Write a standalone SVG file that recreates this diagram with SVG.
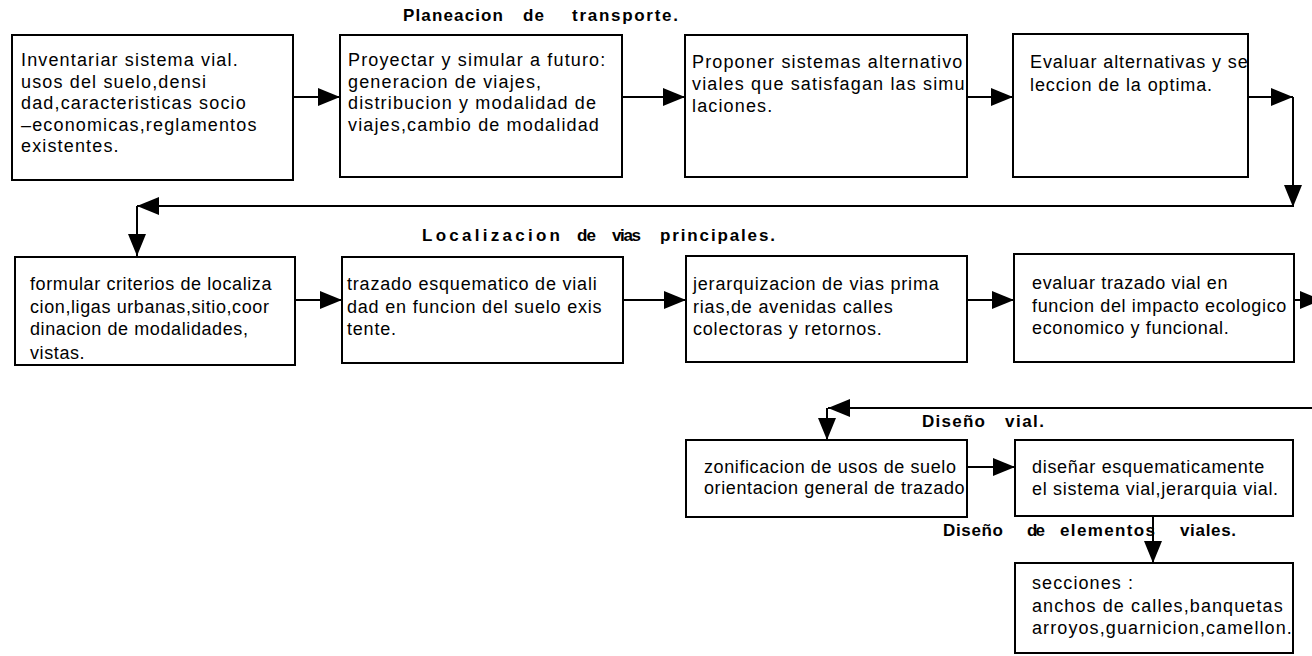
<svg xmlns="http://www.w3.org/2000/svg" width="1312" height="656" viewBox="0 0 1312 656">
<style>
.box{fill:#fff;stroke:#000;stroke-width:2}
.t{font-family:"Liberation Sans",Arial,Helvetica,sans-serif;font-size:18px;letter-spacing:0.8px;fill:#000}
.r1{letter-spacing:1.15px}
.h{font-family:"Liberation Sans",Arial,Helvetica,sans-serif;font-size:17px;font-weight:bold;letter-spacing:2px;fill:#000}
.c{fill:none;stroke:#000;stroke-width:2}
</style>
<defs>
<marker id="ah" markerUnits="userSpaceOnUse" markerWidth="22" markerHeight="18" viewBox="0 0 22 18" refX="22" refY="9" orient="auto">
<path d="M0,0 L22,9 L0,18 z" fill="#000"/>
</marker>
</defs>
<rect width="1312" height="656" fill="#fff"/>

<g id="labels">
<text class="h" y="21"><tspan x="403" textLength="102" lengthAdjust="spacing">Planeacion</tspan><tspan x="523" textLength="23" lengthAdjust="spacing">de</tspan><tspan x="572" textLength="108" lengthAdjust="spacing">transporte.</tspan></text>
<text class="h" y="241"><tspan x="422" textLength="140" lengthAdjust="spacing">Localizacion</tspan><tspan x="577" textLength="21" lengthAdjust="spacing">de</tspan><tspan x="612" textLength="31" lengthAdjust="spacing">vias</tspan><tspan x="660" textLength="117" lengthAdjust="spacing">principales.</tspan></text>
<text class="h" y="427"><tspan x="922" textLength="65" lengthAdjust="spacing">Diseño</tspan><tspan x="1005" textLength="41" lengthAdjust="spacing">vial.</tspan></text>
<text class="h" y="536"><tspan x="943" textLength="62" lengthAdjust="spacing">Diseño</tspan><tspan x="1027" textLength="20" lengthAdjust="spacing">de</tspan><tspan x="1060" textLength="97" lengthAdjust="spacing">elementos</tspan><tspan x="1180" textLength="58" lengthAdjust="spacing">viales.</tspan></text>
</g>

<g id="connectors">
<line class="c" x1="293" y1="97" x2="340" y2="97" marker-end="url(#ah)"/>
<line class="c" x1="622" y1="97" x2="685" y2="97" marker-end="url(#ah)"/>
<line class="c" x1="967" y1="97" x2="1013" y2="97" marker-end="url(#ah)"/>
<line class="c" x1="1248" y1="97" x2="1293" y2="97" marker-end="url(#ah)"/>
<line class="c" x1="1293" y1="97" x2="1293" y2="207" marker-end="url(#ah)"/>
<line class="c" x1="1294" y1="206" x2="137" y2="206" marker-end="url(#ah)"/>
<line class="c" x1="137" y1="206" x2="137" y2="256" marker-end="url(#ah)"/>
<line class="c" x1="295" y1="300" x2="342" y2="300" marker-end="url(#ah)"/>
<line class="c" x1="623" y1="300" x2="686" y2="300" marker-end="url(#ah)"/>
<line class="c" x1="967" y1="300" x2="1014" y2="300" marker-end="url(#ah)"/>
<line class="c" x1="1294" y1="300" x2="1322" y2="300" marker-end="url(#ah)"/>
<line class="c" x1="1312" y1="408" x2="828" y2="408" marker-end="url(#ah)"/>
<line class="c" x1="827" y1="408" x2="827" y2="440" marker-end="url(#ah)"/>
<line class="c" x1="967" y1="467" x2="1015" y2="467" marker-end="url(#ah)"/>
<line class="c" x1="1153" y1="516" x2="1153" y2="563" marker-end="url(#ah)"/>
</g>

<g id="n1">
<rect class="box" x="12" y="35" width="281" height="145"/>
<text class="t r1"><tspan x="21" y="66">Inventariar sistema vial.</tspan><tspan x="21" y="87.5">usos del suelo,densi</tspan><tspan x="21" y="109">dad,caracteristicas socio</tspan><tspan x="21" y="130.5">–economicas,reglamentos</tspan><tspan x="21" y="152">existentes.</tspan></text>
</g>
<g id="n2">
<rect class="box" x="340" y="35" width="282" height="142"/>
<text class="t r1"><tspan x="348" y="66">Proyectar y simular a futuro:</tspan><tspan x="348" y="87.5">generacion de viajes,</tspan><tspan x="348" y="109">distribucion y modalidad de</tspan><tspan x="348" y="130.5">viajes,cambio de modalidad</tspan></text>
</g>
<g id="n3">
<rect class="box" x="685" y="35" width="282" height="142"/>
<text class="t r1"><tspan x="692" y="68">Proponer sistemas alternativo</tspan><tspan x="692" y="90">viales que satisfagan las simu</tspan><tspan x="692" y="112">laciones.</tspan></text>
</g>
<g id="n4">
<rect class="box" x="1013" y="34" width="235" height="143"/>
<text class="t" style="letter-spacing:0.9px"><tspan x="1030" y="68">Evaluar alternativas y se</tspan><tspan x="1030" y="91">leccion de la optima.</tspan></text>
</g>

<g id="n5">
<rect class="box" x="15" y="257" width="280" height="108"/>
<text class="t" style="letter-spacing:0.6px"><tspan x="30" y="290">formular criterios de localiza</tspan><tspan x="30" y="312.5">cion,ligas urbanas,sitio,coor</tspan><tspan x="30" y="335">dinacion de modalidades,</tspan><tspan x="30" y="359">vistas.</tspan></text>
</g>
<g id="n6">
<rect class="box" x="342" y="257" width="281" height="106"/>
<text class="t"><tspan x="347" y="290">trazado esquematico de viali</tspan><tspan x="347" y="312.5">dad en funcion del suelo exis</tspan><tspan x="347" y="335">tente.</tspan></text>
</g>
<g id="n7">
<rect class="box" x="686" y="256" width="281" height="106"/>
<text class="t"><tspan x="693" y="290">jerarquizacion de vias prima</tspan><tspan x="693" y="312.5">rias,de avenidas calles</tspan><tspan x="693" y="335">colectoras y retornos.</tspan></text>
</g>
<g id="n8">
<rect class="box" x="1014" y="254" width="280" height="108"/>
<text class="t" style="letter-spacing:0.65px"><tspan x="1032" y="289">evaluar trazado vial en</tspan><tspan x="1032" y="311.5">funcion del impacto ecologico</tspan><tspan x="1032" y="334">economico y funcional.</tspan></text>
</g>

<g id="n9">
<rect class="box" x="686" y="440" width="281" height="77"/>
<text class="t" style="letter-spacing:0.6px"><tspan x="704" y="473">zonificacion de usos de suelo</tspan><tspan x="704" y="494">orientacion general de trazado</tspan></text>
</g>
<g id="n10">
<rect class="box" x="1015" y="440" width="278" height="76"/>
<text class="t" style="letter-spacing:0.7px"><tspan x="1032" y="473">diseñar esquematicamente</tspan><tspan x="1032" y="495">el sistema vial,jerarquia vial.</tspan></text>
</g>
<g id="n11">
<rect class="box" x="1015" y="563" width="278" height="90"/>
<text class="t" style="letter-spacing:1.1px"><tspan x="1032" y="589">secciones :</tspan><tspan x="1032" y="611.5">anchos de calles,banquetas</tspan><tspan x="1032" y="634">arroyos,guarnicion,camellon.</tspan></text>
</g>
</svg>
